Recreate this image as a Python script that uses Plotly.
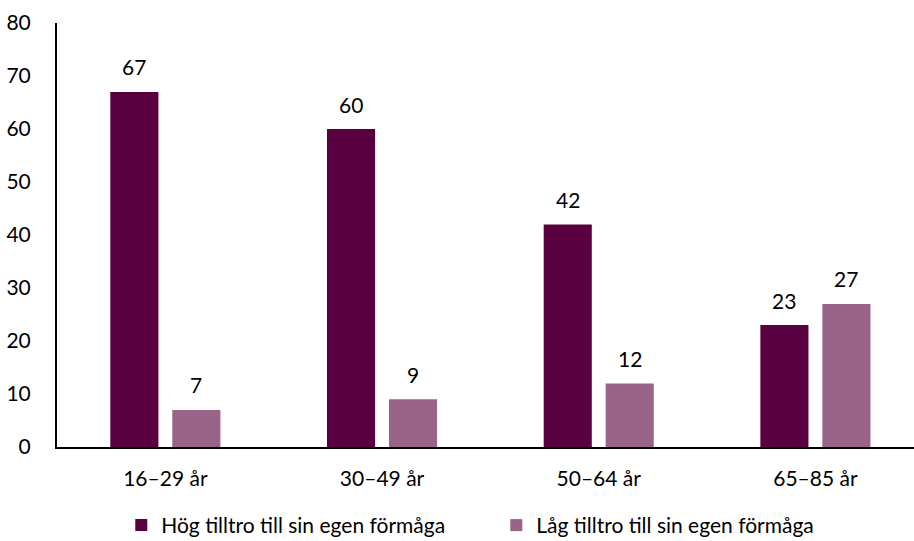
import plotly.graph_objects as go

categories = ["16–29 år", "30–49 år", "50–64 år", "65–85 år"]
hog = [67, 60, 42, 23]
lag = [7, 9, 12, 27]
series_names = ["Hög tilltro till sin egen förmåga", "Låg tilltro till sin egen förmåga"]
colors = ["#5A0040", "#9A6488"]

FONT = "Lato"
FS = 21
fig = go.Figure()
bw = 0.222
fig.add_trace(go.Bar(x=categories, y=hog, name=series_names[0], marker=dict(color=colors[0], line=dict(width=0)),
                     width=bw, offset=-0.254))
fig.add_trace(go.Bar(x=categories, y=lag, name=series_names[1], marker=dict(color=colors[1], line=dict(width=0)),
                     width=bw, offset=0.032))

annotations = []
for i, c in enumerate(categories):
    for vals, off in ((hog, -0.254), (lag, 0.032)):
        annotations.append(dict(x=i + off + bw / 2, y=vals[i], xref="x", yref="y", text=str(vals[i]),
                                showarrow=False, yshift=25, font=dict(family=FONT, size=FS, color="#000")))

fig.update_layout(
    width=914, height=541,
    margin=dict(l=57, r=0, t=23, b=94, autoexpand=False),
    paper_bgcolor="white", plot_bgcolor="white",
    font=dict(family=FONT, size=FS, color="#000"),
    showlegend=True,
    legend=dict(orientation="h", x=0.075, xanchor="left", y=-0.185, yanchor="middle",
                font=dict(family=FONT, size=FS, color="#000"), itemwidth=30, traceorder="normal",
                entrywidth=330, entrywidthmode="pixels"),
    annotations=annotations,
    xaxis=dict(type="category", range=[-0.5, 3.455], showline=True, linecolor="black", linewidth=2,
               showgrid=False, ticks="", tickfont=dict(family=FONT, size=FS), ticklabelstandoff=12),
    yaxis=dict(range=[0, 80], dtick=10, showline=True, linecolor="black", linewidth=2, showgrid=False,
               zeroline=False, ticks="", tickfont=dict(family=FONT, size=FS), ticklabelstandoff=20),
)
fig.write_html("out.html")
